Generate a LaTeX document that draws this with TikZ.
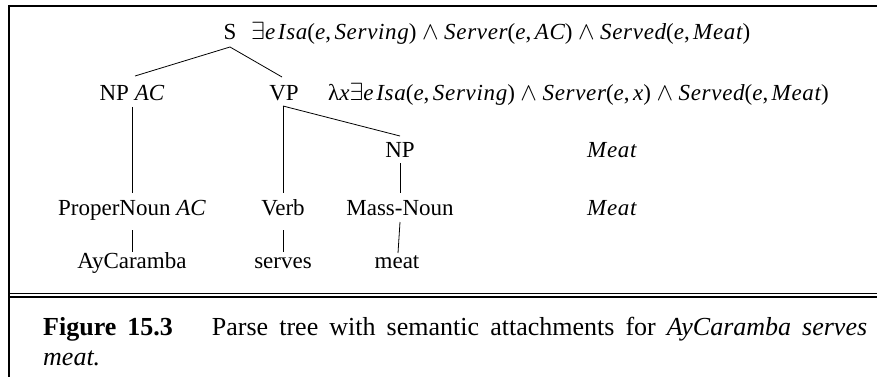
\documentclass[tikz,border=0pt]{standalone}
\usepackage{fontspec}
\setmainfont{Liberation Serif}
\newfontface\mitf{Liberation Serif Italic}[LetterSpace=3]
\usetikzlibrary{calc}
\newcommand{\iv}[1]{\textit{#1}}
\newcommand{\mv}[1]{{\mitf #1}}
\newcommand{\wsp}{\hspace{0.24em}$\wedge$\hspace{0.24em}}
\newcommand{\cm}{,\hspace{0.15em}}
\newcommand{\fS}{$\exists$\mv{e\hspace{0.12em}Isa}(\mv{e}\cm\mv{Serving})\wsp\mv{Server}(\mv{e}\cm\mv{AC})\wsp\mv{Served}(\mv{e}\cm\mv{Meat})}
\newcommand{\fVP}{λ\mv{x}$\exists$\mv{e\hspace{0.12em}Isa}(\mv{e}\cm\mv{Serving})\wsp\mv{Server}(\mv{e}\cm\mv{x})\wsp\mv{Served}(\mv{e}\cm\mv{Meat})}
\begin{document}
\begin{tikzpicture}[x=1pt,y=-1pt,
  lbl/.style={anchor=base, inner sep=0pt, font=\fontsize{23}{27}\selectfont},
  sem/.style={lbl, anchor=base west},
  edge/.style={line width=0.8pt},
  frame/.style={line width=2pt},
  dbl/.style={line width=1.4pt}]
\useasboundingbox (0,0) rectangle (877,377);
% frame
\draw[frame] (8,6) -- (877,6);
\draw[frame] (9,5) -- (9,377);
\draw[dbl] (9,293.3) -- (877,293.3);
\draw[dbl] (9,297) -- (877,297);
% nodes
\node[lbl] (S) at (230,40) {S};
\node[sem] (fS) at (251,40) {\fS};
\node[lbl] (NPac) at (132,100) {NP \iv{AC}};
\node[lbl] (VP) at (284,100) {VP};
\node[sem] (fVP) at (328,100) {\fVP};
\node[lbl] (NP) at (400,157) {NP};
\node[sem] (m1) at (587,157) {\mv{Meat}};
\node[lbl] (PN) at (132,215) {ProperNoun \iv{AC}};
\node[lbl] (Verb) at (283,215) {Verb};
\node[lbl] (MN) at (400,215) {Mass-Noun};
\node[sem] (m2) at (587,215) {\mv{Meat}};
\node[lbl] (AyC) at (132,268) {AyCaramba};
\node[lbl] (serves) at (283,268) {serves};
\node[lbl] (meat) at (397,268) {meat};
% edges
\draw[edge] ($(S.base)+(0,7)$) -- ($(NPac.base)+(3,-24)$);
\draw[edge] ($(S.base)+(0,7)$) -- ($(VP.base)+(-2,-23)$);
\draw[edge] ($(NPac.base)+(0,7)$) -- ($(PN.base)+(0,-22)$);
\draw[edge] ($(VP.base)+(-1,6)$) -- ($(Verb.base)+(0,-22)$);
\draw[edge] ($(VP.base)+(-1,6)$) -- ($(NP.base)+(0,-21)$);
\draw[edge] ($(NP.base)+(0,6)$) -- ($(MN.base)+(0,-22)$);
\draw[edge] ($(PN.base)+(0,15)$) -- ($(AyC.base)+(0,-16)$);
\draw[edge] ($(Verb.base)+(0,15)$) -- ($(serves.base)+(0,-16)$);
\draw[edge] ($(MN.base)+(0,7)$) -- ($(meat.base)+(1,-15)$);
% caption
\node[anchor=north west, text width=824pt, inner sep=0pt, align=justify,
  font=\fontsize{26}{30}\selectfont] (cap) at (43,317)
  {\textbf{Figure 15.3}\hspace{1.5em}Parse tree with semantic attachments for \iv{AyCaramba serves meat.}};
\end{tikzpicture}
\end{document}
